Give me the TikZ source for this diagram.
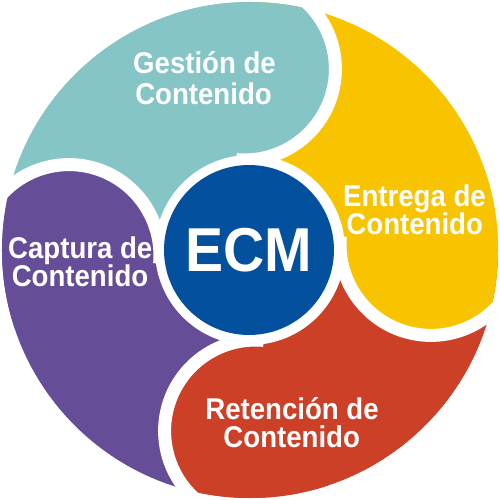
\documentclass[tikz,border=0pt]{standalone}
\usepackage{fontspec}
\setmainfont{Liberation Sans}[FakeStretch=0.92]
\definecolor{cteal}{RGB}{134,197,198}
\definecolor{cyellow}{RGB}{248,196,0}
\definecolor{cred}{RGB}{204,64,40}
\definecolor{cpurple}{RGB}{101,77,151}
\definecolor{cblue}{RGB}{2,80,158}
\newcommand{\petalwedge}[2]{%
  \fill[#2, rotate=#1] (0,0) -- (90:400) arc[start angle=90,end angle=180,radius=400] -- cycle;}
\newcommand{\petalhead}[2]{%
  \fill[#2, rotate=#1] (-5.6,181) circle[radius=91];}
\newcommand{\petalgap}[1]{%
  \draw[gapline, rotate=#1] (-5.6,181) ++(50:91) arc[start angle=50,end angle=-95,radius=91];}
\begin{document}
\begin{tikzpicture}[x=1pt,y=1pt,
  gapline/.style={white, line width=13pt},
  lbl/.style={text=white, font=\bfseries\fontsize{30}{30}\selectfont, anchor=base, inner sep=0pt},
  hub/.style={circle, fill=cblue, minimum size=170pt, inner sep=0pt, text=white,
    font=\bfseries\fontsize{62}{62}\selectfont}]
\useasboundingbox (-250,-250) rectangle (250,250);
\begin{scope}
  \clip (0,0) circle[radius=248];
  \petalwedge{0}{cteal}
  \petalwedge{-90}{cyellow}
  \petalwedge{-180}{cred}
  \petalwedge{-270}{cpurple}
  \petalhead{0}{cteal}
  \petalhead{-90}{cyellow}
  \petalhead{-180}{cred}
  \petalhead{-270}{cpurple}
\end{scope}
\petalgap{0}
\petalgap{-90}
\petalgap{-180}
\petalgap{-270}
\fill[white] (0,0) circle[radius=95];
\node[hub] (ecm) at (-1,0) {ECM};
\node[lbl] (g1) at (-45.5,176) {Gestión de};
\node[lbl] (g2) at (-46.5,145) {Contenido};
\node[lbl] (e1) at (164.5,43) {Entrega de};
\node[lbl] (e2) at (164.7,15) {Contenido};
\node[lbl] (c1) at (-169.7,-9) {Captura de};
\node[lbl] (c2) at (-170,-37) {Contenido};
\node[lbl] (r1) at (42,-169) {Retención de};
\node[lbl] (r2) at (41.7,-197) {Contenido};
\end{tikzpicture}
\end{document}
